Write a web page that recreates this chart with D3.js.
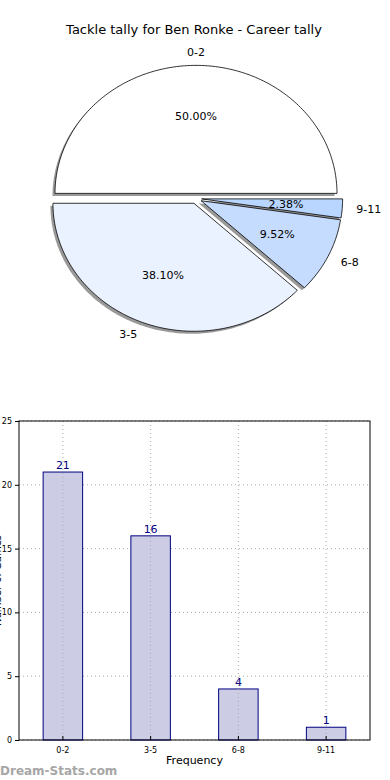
<!DOCTYPE html>
<html>
<head>
<meta charset="utf-8">
<script src="https://cdn.jsdelivr.net/npm/d3@7"></script>
<style>
  body { margin: 0; background: #fff; }
  svg { display: block; font-family: "DejaVu Sans", sans-serif; }
</style>
</head>
<body>
<div id="chart"></div>
<script>
const title = "Tackle tally for Ben Ronke - Career tally";
const categories = ["0-2", "3-5", "6-8", "9-11"];
const counts = [21, 16, 4, 1];
const sliceColors = ["#ffffff", "#ebf2ff", "#c6dcff", "#b8d6ff"];
const yTicks = [0, 5, 10, 15, 20, 25];

const width = 390, height = 780;
const svg = d3.select("#chart").append("svg")
    .attr("width", width)
    .attr("height", height);

svg.append("text")
    .attr("x", 194).attr("y", 34)
    .attr("text-anchor", "middle")
    .attr("font-size", "13px")
    .text(title);

// ---- pie (elliptical, like matplotlib without equal aspect)
const cx = 196, cy = 198.5, rx = 141, ry = 128, explode = 0.04;
const total = d3.sum(counts);

// matplotlib starts at 0 deg and goes counterclockwise
const pie = d3.pie().sort(null).value(d => d)
    .startAngle(0).endAngle(2 * Math.PI);
const slices = pie(counts);

function pt(a, r) {
    // a: math angle (rad, ccw from +x)
    return [Math.cos(a) * r * rx, -Math.sin(a) * r * ry];
}

function wedgePath(s) {
    const a0 = s.startAngle, a1 = s.endAngle;
    const n = Math.max(4, Math.ceil((a1 - a0) / 0.02));
    const pts = [[0, 0]];
    for (let i = 0; i <= n; i++) {
        pts.push(pt(a0 + (a1 - a0) * i / n, 1));
    }
    return d3.line()(pts) + "Z";
}

const pieG = svg.append("g");
const shadowG = pieG.append("g");
const wedgeG = pieG.append("g");

slices.forEach((s, i) => {
    const mid = (s.startAngle + s.endAngle) / 2;
    const [ox, oy] = pt(mid, explode);
    const x = cx + ox, y = cy + oy;

    shadowG.append("path")
        .attr("d", wedgePath(s))
        .attr("transform", `translate(${x - 2.5},${y + 2.5})`)
        .attr("fill", "#000")
        .attr("fill-opacity", 0.4);

    wedgeG.append("path")
        .attr("d", wedgePath(s))
        .attr("transform", `translate(${x},${y})`)
        .attr("fill", sliceColors[i])
        .attr("stroke", "#000")
        .attr("stroke-width", 0.8);

    const [lx, ly] = pt(mid, 1.1);
    const cosm = Math.cos(mid);
    wedgeG.append("text")
        .attr("x", x + lx).attr("y", y + ly)
        .attr("dy", "0.35em")
        .attr("text-anchor", Math.abs(cosm) < 0.05 ? "middle" : (cosm > 0 ? "start" : "end"))
        .attr("font-size", "11px")
        .text(categories[i]);

    const [px, py] = pt(mid, 0.6);
    wedgeG.append("text")
        .attr("x", x + px).attr("y", y + py)
        .attr("dy", "0.35em")
        .attr("text-anchor", "middle")
        .attr("font-size", "11px")
        .text((counts[i] / total * 100).toFixed(2) + "%");
});

// ---- bar chart
const m = { left: 19, right: 370, top: 421, bottom: 740 };

const x = d3.scaleBand().domain(categories)
    .range([m.left, m.right]).paddingInner(0.55).paddingOuter(0.275);
const y = d3.scaleLinear().domain([0, 25]).range([m.bottom, m.top]);

const barG = svg.append("g");

// grid
barG.selectAll(".hgrid").data(yTicks).join("line")
    .attr("x1", m.left).attr("x2", m.right)
    .attr("y1", d => y(d)).attr("y2", d => y(d))
    .attr("stroke", "#aaa").attr("stroke-width", 1)
    .attr("stroke-dasharray", "1,3");

barG.selectAll(".bar").data(counts).join("rect")
    .attr("x", (d, i) => x(categories[i]))
    .attr("y", d => y(d))
    .attr("width", x.bandwidth())
    .attr("height", d => y(0) - y(d))
    .attr("fill", "#cccce5")
    .attr("stroke", "#000080")
    .attr("stroke-width", 1);

barG.selectAll(".vgrid").data(categories).join("line")
    .attr("x1", d => x(d) + x.bandwidth() / 2).attr("x2", d => x(d) + x.bandwidth() / 2)
    .attr("y1", m.top).attr("y2", m.bottom)
    .attr("stroke", "#aaa").attr("stroke-width", 1)
    .attr("stroke-dasharray", "1,3");

barG.selectAll(".val").data(counts).join("text")
    .attr("x", (d, i) => x(categories[i]) + x.bandwidth() / 2)
    .attr("y", d => y(d) - 3)
    .attr("text-anchor", "middle")
    .attr("font-size", "11px")
    .attr("fill", "#000080")
    .text(d => d);

// axes
const yAxis = d3.axisLeft(y).tickValues(yTicks).tickSize(4).tickPadding(3);
const yg = barG.append("g").attr("transform", `translate(${m.left},0)`).call(yAxis);
yg.select(".domain").remove();
yg.selectAll("text").attr("font-size", "8px").attr("font-family", "DejaVu Sans, sans-serif");

const xAxis = d3.axisBottom(x).tickSize(4).tickPadding(3);
const xg = barG.append("g").attr("transform", `translate(0,${m.bottom})`).call(xAxis);
xg.select(".domain").remove();
xg.selectAll("text").attr("font-size", "8px").attr("font-family", "DejaVu Sans, sans-serif");
xg.selectAll("line").attr("transform", "scale(1,-1)");

barG.append("rect")
    .attr("x", m.left).attr("y", m.top)
    .attr("width", m.right - m.left).attr("height", m.bottom - m.top)
    .attr("fill", "none").attr("stroke", "#000").attr("stroke-width", 1);

barG.append("text")
    .attr("x", (m.left + m.right) / 2).attr("y", 764)
    .attr("text-anchor", "middle")
    .attr("font-size", "11px")
    .text("Frequency");

// y label sits mostly past the left edge, as in the source image
barG.append("text")
    .attr("transform", `translate(1,${(m.top + m.bottom) / 2}) rotate(-90)`)
    .attr("text-anchor", "middle")
    .attr("font-size", "10px")
    .text("Number of Games");

svg.append("text")
    .attr("x", 0).attr("y", 775)
    .attr("font-size", "12px")
    .attr("font-weight", "bold")
    .attr("fill", "#a6a6a6")
    .text("Dream-Stats.com");
</script>
</body>
</html>
